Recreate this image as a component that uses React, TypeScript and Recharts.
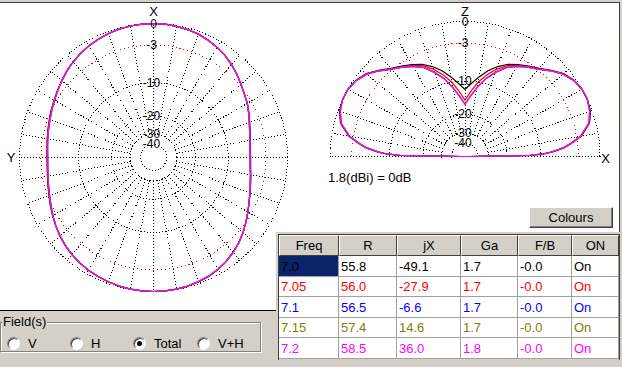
import React from 'react'
import { RadarChart, Radar, PolarGrid, PolarAngleAxis, PolarRadiusAxis } from 'recharts'

// table values
const HEADERS = ['Freq', 'R', 'jX', 'Ga', 'F/B', 'ON']
const FREQS = ['7.0', '7.05', '7.1', '7.15', '7.2']
const R_OHM = ['55.8', '56.0', '56.5', '57.4', '58.5']
const JX_OHM = ['-49.1', '-27.9', '-6.6', '14.6', '36.0']
const GAIN = ['1.7', '1.7', '1.7', '1.7', '1.8']
const FB = ['-0.0', '-0.0', '-0.0', '-0.0', '-0.0']
const ON = ['On', 'On', 'On', 'On', 'On']
const FIELDS = ['V', 'H', 'Total', 'V+H']
const FIELD_SELECTED = 'Total'

const COLORS = ['#000000', '#ff0000', '#0000ff', '#808000', '#ff00ff']
const KEYS = ['f0', 'f1', 'f2', 'f3', 'f4']
const RING_DB = [0, -3, -10, -20, -30, -40]

// azimuth pattern, dB, clockwise from X (top), 5 deg steps
const AZ_ANGLES = [0, 5, 10, 15, 20, 25, 30, 35, 40, 45, 50, 55, 60, 65, 70, 75, 80, 85, 90, 95, 100, 105, 110, 115, 120, 125, 130, 135, 140, 145, 150, 155, 160, 165, 170, 175, 180, 185, 190, 195, 200, 205, 210, 215, 220, 225, 230, 235, 240, 245, 250, 255, 260, 265, 270, 275, 280, 285, 290, 295, 300, 305, 310, 315, 320, 325, 330, 335, 340, 345, 350, 355]
const AZ_F0 = [0, -0.02, -0.1, -0.2, -0.35, -0.6, -0.9, -1.25, -1.7, -2.2, -2.75, -3.25, -3.65, -4.2, -4.7, -5.1, -5.4, -5.58, -5.63, -5.55, -5.3, -5.0, -4.6, -4.1, -3.55, -2.95, -2.35, -1.8, -1.35, -0.95, -0.65, -0.4, -0.25, -0.12, -0.05, -0.01, 0, -0.01, -0.05, -0.12, -0.22, -0.35, -0.5, -0.7, -0.95, -1.25, -1.6, -2.0, -2.4, -2.8, -3.2, -3.5, -3.75, -3.9, -3.95, -3.87, -3.7, -3.5, -3.25, -2.95, -2.65, -2.3, -1.95, -1.55, -1.2, -0.9, -0.65, -0.45, -0.27, -0.15, -0.06, -0.02]
const AZ_F1 = [0, -0.02, -0.1, -0.2, -0.35, -0.6, -0.9, -1.25, -1.7, -2.2, -2.75, -3.25, -3.65, -4.15, -4.65, -5.05, -5.35, -5.52, -5.58, -5.5, -5.25, -4.95, -4.55, -4.1, -3.55, -2.95, -2.35, -1.8, -1.35, -0.95, -0.65, -0.4, -0.25, -0.12, -0.05, -0.01, 0, -0.01, -0.05, -0.12, -0.22, -0.35, -0.5, -0.7, -0.95, -1.25, -1.6, -2.0, -2.42, -2.85, -3.25, -3.55, -3.8, -3.95, -4.0, -3.92, -3.75, -3.55, -3.3, -3.0, -2.7, -2.35, -1.95, -1.55, -1.2, -0.9, -0.65, -0.45, -0.27, -0.15, -0.06, -0.02]
const AZ_F2 = [0, -0.02, -0.1, -0.2, -0.35, -0.6, -0.9, -1.25, -1.7, -2.2, -2.75, -3.25, -3.65, -4.15, -4.62, -5.02, -5.3, -5.48, -5.53, -5.45, -5.22, -4.92, -4.55, -4.1, -3.55, -2.95, -2.35, -1.8, -1.35, -0.95, -0.65, -0.4, -0.25, -0.12, -0.05, -0.01, 0, -0.01, -0.05, -0.12, -0.22, -0.35, -0.5, -0.7, -0.95, -1.25, -1.6, -2.0, -2.45, -2.9, -3.3, -3.6, -3.85, -4.0, -4.05, -3.97, -3.8, -3.6, -3.35, -3.05, -2.72, -2.35, -1.95, -1.55, -1.2, -0.9, -0.65, -0.45, -0.27, -0.15, -0.06, -0.02]
const AZ_F3 = [0, -0.02, -0.1, -0.2, -0.35, -0.6, -0.9, -1.25, -1.7, -2.2, -2.75, -3.25, -3.65, -4.2, -4.7, -5.1, -5.4, -5.58, -5.63, -5.55, -5.3, -5.0, -4.6, -4.1, -3.55, -2.95, -2.35, -1.8, -1.35, -0.95, -0.65, -0.4, -0.25, -0.12, -0.05, -0.01, 0, -0.01, -0.05, -0.12, -0.22, -0.35, -0.5, -0.7, -0.95, -1.25, -1.6, -2.0, -2.45, -2.9, -3.3, -3.6, -3.85, -4.0, -4.05, -3.97, -3.8, -3.6, -3.35, -3.05, -2.72, -2.35, -1.95, -1.55, -1.2, -0.9, -0.65, -0.45, -0.27, -0.15, -0.06, -0.02]
const AZ_F4 = [0, -0.02, -0.1, -0.2, -0.35, -0.6, -0.9, -1.25, -1.7, -2.2, -2.75, -3.25, -3.65, -4.2, -4.7, -5.1, -5.4, -5.58, -5.63, -5.55, -5.3, -5.0, -4.6, -4.1, -3.55, -2.95, -2.35, -1.8, -1.35, -0.95, -0.65, -0.4, -0.25, -0.12, -0.05, -0.01, 0, -0.01, -0.05, -0.12, -0.22, -0.35, -0.5, -0.7, -0.95, -1.25, -1.6, -2.0, -2.45, -2.9, -3.3, -3.6, -3.85, -4.0, -4.05, -3.97, -3.8, -3.6, -3.35, -3.05, -2.72, -2.35, -1.95, -1.55, -1.2, -0.9, -0.65, -0.45, -0.27, -0.15, -0.06, -0.02]

// elevation pattern, dB, from X horizon (right) over Z to the left horizon
const EL_ANGLES = [0, 1, 2, 3, 5, 7, 10, 15, 20, 25, 30, 35, 40, 45, 50, 55, 60, 65, 70, 75, 80, 85, 90, 95, 100, 105, 110, 115, 120, 125, 130, 135, 140, 145, 150, 155, 160, 165, 170, 173, 175, 177, 178, 179, 180]
const EL_F0 = [-60, -12.3, -9.0, -7.4, -5.3, -4.0, -2.3, -0.8, -0.2, 0, 0, -0.25, -0.8, -1.75, -2.75, -3.45, -4.15, -4.85, -5.9, -7.2, -8.8, -10.5, -12.0, -10.5, -8.8, -7.2, -5.9, -4.85, -4.15, -3.45, -2.75, -1.75, -0.8, -0.25, 0, 0, -0.2, -0.8, -2.3, -4.0, -5.3, -7.4, -9.0, -12.3, -60]
const EL_F1 = [-60, -12.4, -9.1, -7.5, -5.3, -4.0, -2.3, -0.8, -0.25, 0, 0, -0.3, -0.85, -1.8, -2.85, -3.55, -4.3, -5.1, -6.4, -8.0, -10.0, -12.5, -15.0, -12.5, -10.0, -8.0, -6.4, -5.1, -4.3, -3.55, -2.85, -1.8, -0.85, -0.3, 0, 0, -0.25, -0.8, -2.3, -4.0, -5.3, -7.5, -9.1, -12.4, -60]
const EL_F2 = [-60, -12.5, -9.2, -7.6, -5.4, -4.1, -2.4, -0.85, -0.25, 0, 0, -0.3, -0.9, -1.85, -2.9, -3.65, -4.45, -5.45, -7.05, -8.9, -11.3, -13.9, -16.3, -13.9, -11.3, -8.9, -7.05, -5.45, -4.45, -3.65, -2.9, -1.85, -0.9, -0.3, 0, 0, -0.25, -0.85, -2.4, -4.1, -5.4, -7.6, -9.2, -12.5, -60]
const EL_F3 = [-60, -12.5, -9.2, -7.6, -5.4, -4.1, -2.4, -0.9, -0.3, 0, 0, -0.3, -0.9, -1.85, -2.9, -3.65, -4.45, -5.45, -7.0, -8.85, -11.25, -13.85, -16.2, -13.85, -11.25, -8.85, -7.0, -5.45, -4.45, -3.65, -2.9, -1.85, -0.9, -0.3, 0, 0, -0.3, -0.9, -2.4, -4.1, -5.4, -7.6, -9.2, -12.5, -60]
const EL_F4 = [-60, -12.5, -9.2, -7.6, -5.4, -4.1, -2.4, -0.9, -0.3, 0, 0, -0.3, -0.9, -1.85, -2.9, -3.65, -4.45, -5.45, -7.0, -8.8, -11.2, -13.8, -16.2, -13.8, -11.2, -8.8, -7.0, -5.45, -4.45, -3.65, -2.9, -1.85, -0.9, -0.3, 0, 0, -0.3, -0.9, -2.4, -4.1, -5.4, -7.6, -9.2, -12.5, -60]

const AZ_SPOKES = [0, 10, 20, 30, 40, 50, 60, 70, 80, 90, 100, 110, 120, 130, 140, 150, 160, 170, 180, 190, 200, 210, 220, 230, 240, 250, 260, 270, 280, 290, 300, 310, 320, 330, 340, 350]
const EL_SPOKES = [0, 10, 20, 30, 40, 50, 60, 70, 80, 90, 100, 110, 120, 130, 140, 150, 160, 170, 180]

// ARRL log scale: 0.89 per 2 dB
const arrl = (db: number) => Math.pow(0.89, -db / 2)

const AZ_SERIES = [AZ_F0, AZ_F1, AZ_F2, AZ_F3, AZ_F4]
const EL_SERIES = [EL_F0, EL_F1, EL_F2, EL_F3, EL_F4]

const azData = AZ_ANGLES.map((angle, i) => {
  const row: Record<string, number> = { angle }
  KEYS.forEach((k, s) => { row[k] = arrl(AZ_SERIES[s][i]) })
  return row
})
const elData = EL_ANGLES.map((angle, i) => {
  const row: Record<string, number> = { angle }
  KEYS.forEach((k, s) => { row[k] = arrl(EL_SERIES[s][i]) })
  return row
})

const FONT = '"Liberation Sans", Arial, sans-serif'
const GRAY = '#d4d0c8'
const AZ_R = 134
const EL_R = 135
const NO_MARGIN = { top: 0, right: 0, bottom: 0, left: 0 }
const DOTS = '1 2'

function RingTick(props: any) {
  const { x, y, payload } = props
  const db = Math.round((-2 * Math.log(payload.value)) / Math.log(0.89))
  const digits = String(Math.abs(db))
  const w = digits.length * 6.7
  return (
    <g fontFamily={FONT} fontSize={12} fill="#000">
      {db < 0 && <text x={x - w / 2} y={y + 4} textAnchor="end">-</text>}
      <text x={x} y={y + 4} textAnchor="middle">{digits}</text>
    </g>
  )
}

// one polar pattern: spokes layer (starts at the -30 ring) under rings + traces
function PolarPattern(props: { data: any[]; r: number; cx: number; cy: number; w: number; h: number; start: number; end: number; domain: number[]; spokes: number[] }) {
  const { data, r, cx, cy, w, h, start, end, domain, spokes } = props
  const blackRings = RING_DB.filter((d) => d !== -3)
  return (
    <>
      <div style={{ position: 'absolute', left: 0, top: 0 }}>
        <RadarChart width={w} height={h} cx={cx} cy={cy} innerRadius={arrl(-30) * r} outerRadius={r} startAngle={start} endAngle={end} data={data} margin={NO_MARGIN}>
          <PolarGrid gridType="circle" polarAngles={spokes} polarRadius={[]} stroke="#000" strokeDasharray={DOTS} shapeRendering="crispEdges" />
        </RadarChart>
      </div>
      <div style={{ position: 'absolute', left: 0, top: 0 }}>
        <RadarChart width={w} height={h} cx={cx} cy={cy} outerRadius={r} startAngle={start} endAngle={end} data={data} margin={NO_MARGIN}>
          <PolarGrid gridType="circle" radialLines={false} polarAngles={[]} polarRadius={blackRings.map((d) => arrl(d) * r)} stroke="#000" strokeDasharray={DOTS} shapeRendering="crispEdges" />
          <PolarGrid gridType="circle" radialLines={false} polarAngles={[]} polarRadius={[arrl(-3) * r]} stroke="#ff0000" strokeDasharray="1 3" shapeRendering="crispEdges" />
          <PolarAngleAxis dataKey="angle" type="number" domain={domain} tick={false} axisLine={false} tickLine={false} />
          {KEYS.map((k, i) => (
            <Radar key={k} dataKey={k} stroke={COLORS[i]} strokeWidth={1.2} fill="none" fillOpacity={0} dot={false} isAnimationActive={false} />
          ))}
          <PolarRadiusAxis angle={90} type="number" domain={[0, 1]} ticks={RING_DB.map((d) => arrl(d))} tick={(p: any) => <RingTick {...p} />} axisLine={false} tickLine={false} />
        </RadarChart>
      </div>
    </>
  )
}

const cols = [279, 339, 397, 461, 518, 572, 619]
const rowsY = [235, 256, 277, 297, 318, 338, 359]
const RADIO_X = [7, 70, 133, 197]

export default function App() {
  const tableRows = FREQS.map((f, i) => [f, R_OHM[i], JX_OHM[i], GAIN[i], FB[i], ON[i]])

  return (
    <div style={{ position: 'absolute', left: 0, top: 0, width: 622, height: 367, background: GRAY, overflow: 'hidden', fontFamily: FONT }}>
      {/* plot window */}
      <div style={{ position: 'absolute', left: 0, top: 2, width: 620, height: 1, background: '#404040' }} />
      <div style={{ position: 'absolute', left: 0, top: 3, width: 619, height: 307, background: '#fff' }} />
      <div style={{ position: 'absolute', left: 619, top: 2, width: 1, height: 232, background: '#404040' }} />
      <div style={{ position: 'absolute', left: 0, top: 310, width: 276, height: 1, background: '#000' }} />

      {/* azimuth */}
      <div style={{ position: 'absolute', left: 0, top: 0, width: 300, height: 300 }}>
        <PolarPattern data={azData} r={AZ_R} cx={153.5} cy={157.5} w={300} h={300} start={90} end={-270} domain={[0, 360]} spokes={AZ_SPOKES} />
      </div>

      {/* elevation, lower half clipped away */}
      <div style={{ position: 'absolute', left: 310, top: 0, width: 309, height: 158, overflow: 'hidden' }}>
        <PolarPattern data={elData} r={EL_R} cx={155} cy={156.5} w={310} h={300} start={0} end={180} domain={[0, 180]} spokes={EL_SPOKES} />
      </div>

      {/* axis letters */}
      <svg width={622} height={367} style={{ position: 'absolute', left: 0, top: 0, pointerEvents: 'none' }}>
        <g fontFamily={FONT} fontSize={13} fill="#000">
          <text x={153.5} y={15.5} textAnchor="middle">X</text>
          <text x={11} y={162} textAnchor="middle">Y</text>
          <text x={465} y={15.5} textAnchor="middle">Z</text>
          <text x={605.5} y={163} textAnchor="middle">X</text>
          <text x={328} y={182}>1.8(dBi) = 0dB</text>
        </g>
      </svg>

      {/* Colours button */}
      <div style={{ position: 'absolute', left: 529, top: 207, width: 84, height: 21, boxSizing: 'border-box', background: GRAY, borderTop: '1px solid #fff', borderLeft: '1px solid #fff', borderRight: '1px solid #404040', borderBottom: '1px solid #404040', boxShadow: 'inset -1px -1px #808080', fontSize: 13, lineHeight: '19px', textAlign: 'center', color: '#000' }}>Colours</div>

      {/* frequency table */}
      <div style={{ position: 'absolute', left: 276, top: 232, width: 346, height: 135, background: GRAY }} />
      <div style={{ position: 'absolute', left: 278, top: 234, width: 342, height: 126, boxSizing: 'border-box', borderLeft: '1px solid #404040', borderTop: '1px solid #404040', borderRight: '1px solid #404040' }} />
      {HEADERS.map((h, c) => (
        <div key={h} style={{ position: 'absolute', left: cols[c], top: rowsY[0], width: cols[c + 1] - cols[c], height: rowsY[1] - rowsY[0], boxSizing: 'border-box', background: GRAY, borderTop: '1px solid #fff', borderLeft: '1px solid #fff', borderRight: '1px solid #404040', borderBottom: '1px solid #404040', fontSize: 13, lineHeight: '19px', textAlign: 'center', color: '#000' }}>{h}</div>
      ))}
      {tableRows.map((row, r) =>
        row.map((v, c) => {
          const selected = r === 0 && c === 0
          const h = rowsY[r + 2] - rowsY[r + 1]
          return (
            <div key={`${r}-${c}`} style={{ position: 'absolute', left: cols[c], top: rowsY[r + 1], width: cols[c + 1] - cols[c], height: h, boxSizing: 'border-box', background: selected ? '#0a246a' : '#fff', borderRight: '1px solid #a0a0a0', borderBottom: '1px solid #a0a0a0', fontSize: 13, lineHeight: `${h}px`, paddingLeft: 2, color: COLORS[r], whiteSpace: 'nowrap' }}>{v}</div>
          )
        })
      )}

      {/* field selector */}
      <div style={{ position: 'absolute', left: 0, top: 322, width: 261, height: 30, boxSizing: 'border-box', border: '1px solid #808080', boxShadow: 'inset 1px 1px #fff, 1px 1px #fff' }} />
      <div style={{ position: 'absolute', left: 2, top: 314, padding: '0 1px', background: GRAY, fontSize: 13, lineHeight: '15px', color: '#000' }}>Field(s)</div>
      {FIELDS.map((f, i) => {
        const x = RADIO_X[i]
        return (
          <React.Fragment key={f}>
            <div style={{ position: 'absolute', left: x, top: 337, width: 13, height: 13, boxSizing: 'border-box', borderRadius: '50%', background: '#fff', borderTop: '1px solid #808080', borderLeft: '1px solid #808080', borderRight: '1px solid #fff', borderBottom: '1px solid #fff', boxShadow: 'inset 1px 1px #404040' }}>
              {f === FIELD_SELECTED && <div style={{ position: 'absolute', left: 3, top: 3, width: 5, height: 5, borderRadius: '50%', background: '#000' }} />}
            </div>
            <div style={{ position: 'absolute', left: x + 21, top: 336, fontSize: 13, lineHeight: '15px', color: '#000' }}>{f}</div>
          </React.Fragment>
        )
      })}
    </div>
  )
}
